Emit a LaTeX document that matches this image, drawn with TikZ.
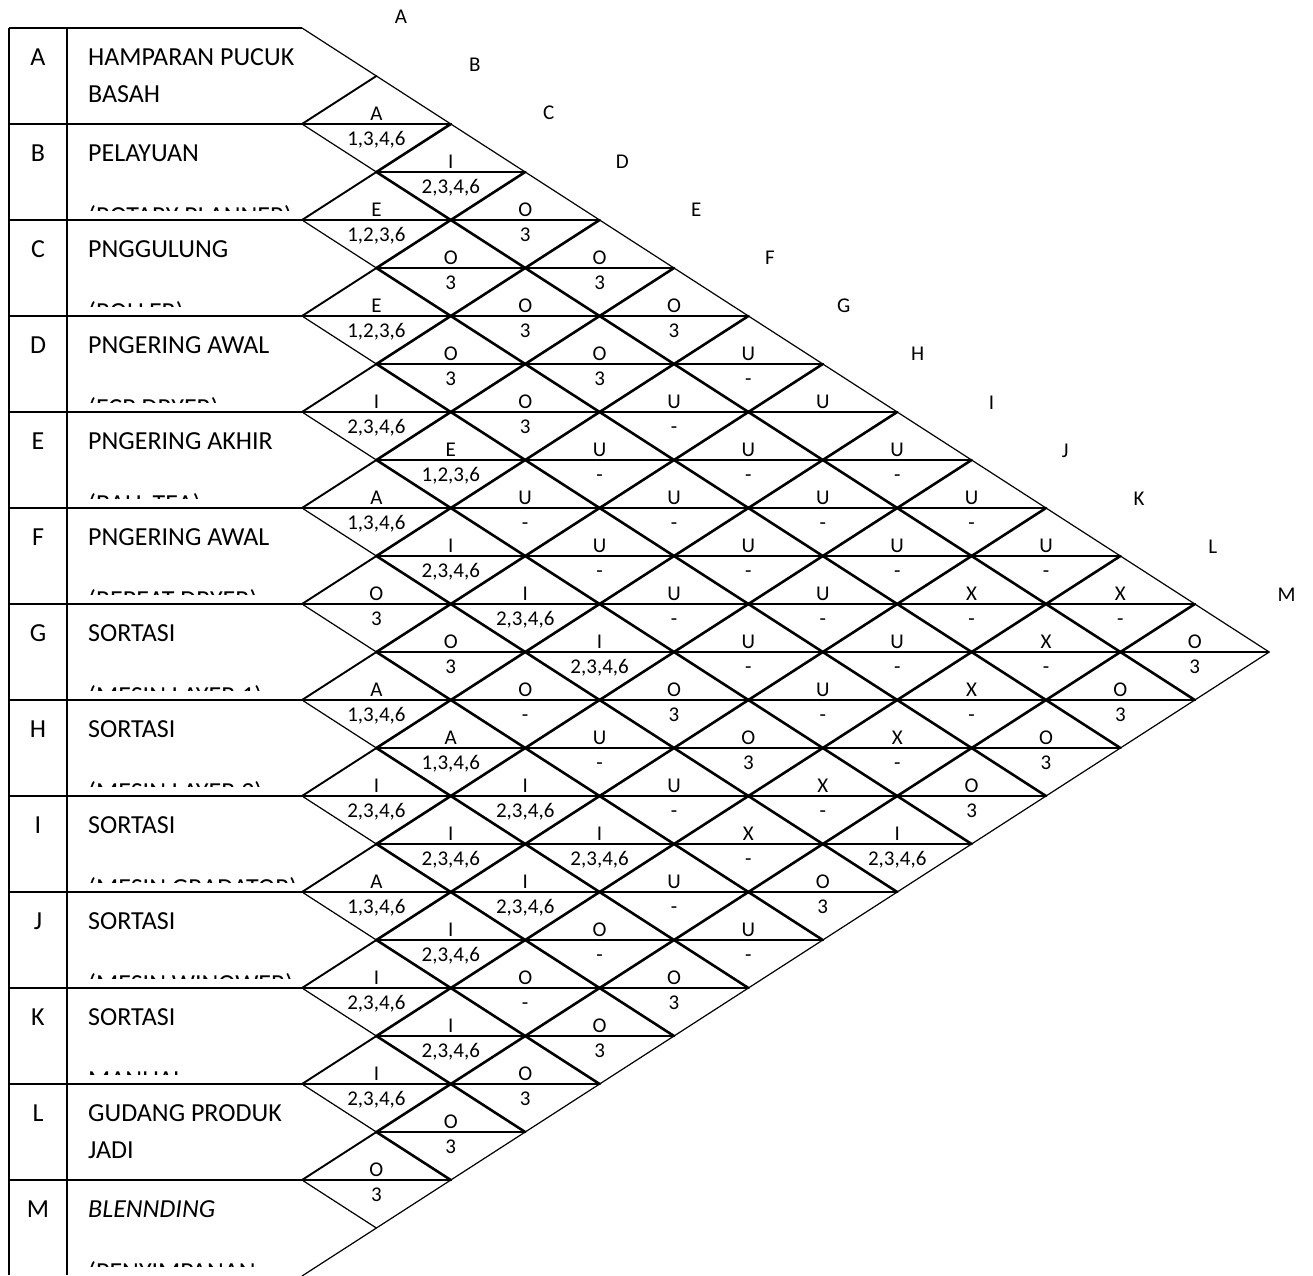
\documentclass[tikz,border=0pt]{standalone}
\usepackage{fontspec}
\setmainfont{Carlito}
\begin{document}
\begin{tikzpicture}[x=1pt,y=-1pt,
	thinline/.style={line width=1.2pt},
	midline/.style={line width=1.9pt,line cap=round},
	boldline/.style={line width=2.6pt,line cap=round},
	divline/.style={line width=1.3pt},
	rowline/.style={line width=1.7pt},
	big/.style={font=\fontsize{26}{37}\selectfont,inner sep=0pt,anchor=base west},
	small/.style={font=\fontsize{21}{25}\selectfont,inner sep=0pt,anchor=base}]
	\useasboundingbox (0,0) rectangle (1313,1275);
	\clip (0,0) rectangle (1313,1275);
	% grid points of the chart
	\foreach \i in {0,...,13}{\foreach \j in {0,...,26}{
			\coordinate (p\i-\j) at ({302+74.4*\i},{28+48*\j});}}
	% table
	\draw[line width=1.5pt] (9,28)--(9,1275) (67,28)--(67,1275);
	\draw[rowline] (p0-0) -- ++(-293,0);
	\foreach \n in {1,...,12}{\pgfmathtruncatemacro\tw{2*\n}
		\draw[rowline] (p0-\tw) -- ++(-293,0);}
	% relationship dividers
	\foreach \i/\j/\rel/\why in {1/2/A/{1,3,4,6},2/3/I/{2,3,4,6},
		1/4/E/{1,2,3,6},3/4/O/3,2/5/O/3,4/5/O/3,
		1/6/E/{1,2,3,6},3/6/O/3,5/6/O/3,2/7/O/3,4/7/O/3,6/7/U/-,
		1/8/I/{2,3,4,6},3/8/O/3,5/8/U/-,7/8/U/{},
		2/9/E/{1,2,3,6},4/9/U/-,6/9/U/-,8/9/U/-,
		1/10/A/{1,3,4,6},3/10/U/-,5/10/U/-,7/10/U/-,9/10/U/-,
		2/11/I/{2,3,4,6},4/11/U/-,6/11/U/-,8/11/U/-,10/11/U/-,
		1/12/O/3,3/12/I/{2,3,4,6},5/12/U/-,7/12/U/-,9/12/X/-,11/12/X/-,
		2/13/O/3,4/13/I/{2,3,4,6},6/13/U/-,8/13/U/-,10/13/X/-,12/13/O/3,
		1/14/A/{1,3,4,6},3/14/O/-,5/14/O/3,7/14/U/-,9/14/X/-,11/14/O/3,
		2/15/A/{1,3,4,6},4/15/U/-,6/15/O/3,8/15/X/-,10/15/O/3,
		1/16/I/{2,3,4,6},3/16/I/{2,3,4,6},5/16/U/-,7/16/X/-,9/16/O/3,
		2/17/I/{2,3,4,6},4/17/I/{2,3,4,6},6/17/X/-,8/17/I/{2,3,4,6},
		1/18/A/{1,3,4,6},3/18/I/{2,3,4,6},5/18/U/-,7/18/O/3,
		2/19/I/{2,3,4,6},4/19/O/-,6/19/U/-,
		1/20/I/{2,3,4,6},3/20/O/-,5/20/O/3,
		2/21/I/{2,3,4,6},4/21/O/3,1/22/I/{2,3,4,6},3/22/O/3,
		2/23/O/3,1/24/O/3}{
		\pgfmathtruncatemacro\a{\i-1}
		\pgfmathtruncatemacro\b{\i+1}
		\draw[divline] (p\a-\j) -- (p\b-\j);
		\node[small] (rel\i-\j) at ([yshift=4pt]p\i-\j) {\rel};
		\edef\tmp{\why}\ifx\tmp\empty\else
		\node[small] (why\i-\j) at ([yshift=-21.5pt]p\i-\j) {\why};\fi
	}
	% diagonals
	\foreach \n in {1,...,12}{
		\pgfmathtruncatemacro\tw{2*\n}
		\pgfmathtruncatemacro\up{2*\n-1}
		\pgfmathtruncatemacro\dn{2*\n+1}
		\pgfmathtruncatemacro\ei{13-\n}
		\pgfmathtruncatemacro\ej{13+\n}
		\draw[midline] (p0-\tw) -- (p1-\up);
		\ifnum\n>1 \draw[boldline] (p1-\up) -- (p\n-\n); \fi
		\draw[thinline] (p0-\tw) -- (p1-\dn);
		\ifnum\n<12 \draw[boldline] (p1-\dn) -- (p\ei-\ej); \fi
	}
	\draw[thinline] (p0-0) -- (p13-13) -- (p0-26);
	% column letters
	\foreach \L [count=\k from 0] in {A,...,M}
	\node[small] (col\L) at ({401+73.8*\k},{23.5+48.2*\k}) {\L};
	% departments
	\foreach \L/\one/\two/\sub [count=\r from 0] in {
		A/{HAMPARAN PUCUK}/{BASAH}/{},
		B/{PELAYUAN}/{}/{(ROTARY PLANNER)},
		C/{PNGGULUNG}/{}/{(ROLLER)},
		D/{PNGERING AWAL}/{}/{(ECP DRYER)},
		E/{PNGERING AKHIR}/{}/{(BALL TEA)},
		F/{PNGERING AWAL}/{}/{(REPEAT DRYER)},
		G/{SORTASI}/{}/{(MESIN LAYER 1)},
		H/{SORTASI}/{}/{(MESIN LAYER 2)},
		I/{SORTASI}/{}/{(MESIN GRADATOR)},
		J/{SORTASI}/{}/{(MESIN WINOWER)},
		K/{SORTASI}/{}/{MANUAL},
		L/{GUDANG PRODUK}/{JADI}/{},
		M/{\textit{BLENNDING}}/{}/{(PENYIMPANAN}}{
		\pgfmathsetmacro\rtop{28+96*\r}
		\node[big,anchor=base] (dep\L) at (38,{\rtop+37}) {\L};
		\node[big] (name\L) at (88,{\rtop+37}) {\one};
		\edef\tmp{\two}\ifx\tmp\empty\else
		\node[big] (nametwo\L) at (88,{\rtop+74}) {\two};\fi
		\edef\tmp{\sub}\ifx\tmp\empty\else
		\begin{scope}
			\clip (9,\rtop) rectangle (302,{\rtop+86.5});
			\node[big] (sub\L) at (88,{\rtop+100}) {\sub};
		\end{scope}\fi
	}
\end{tikzpicture}
\end{document}
